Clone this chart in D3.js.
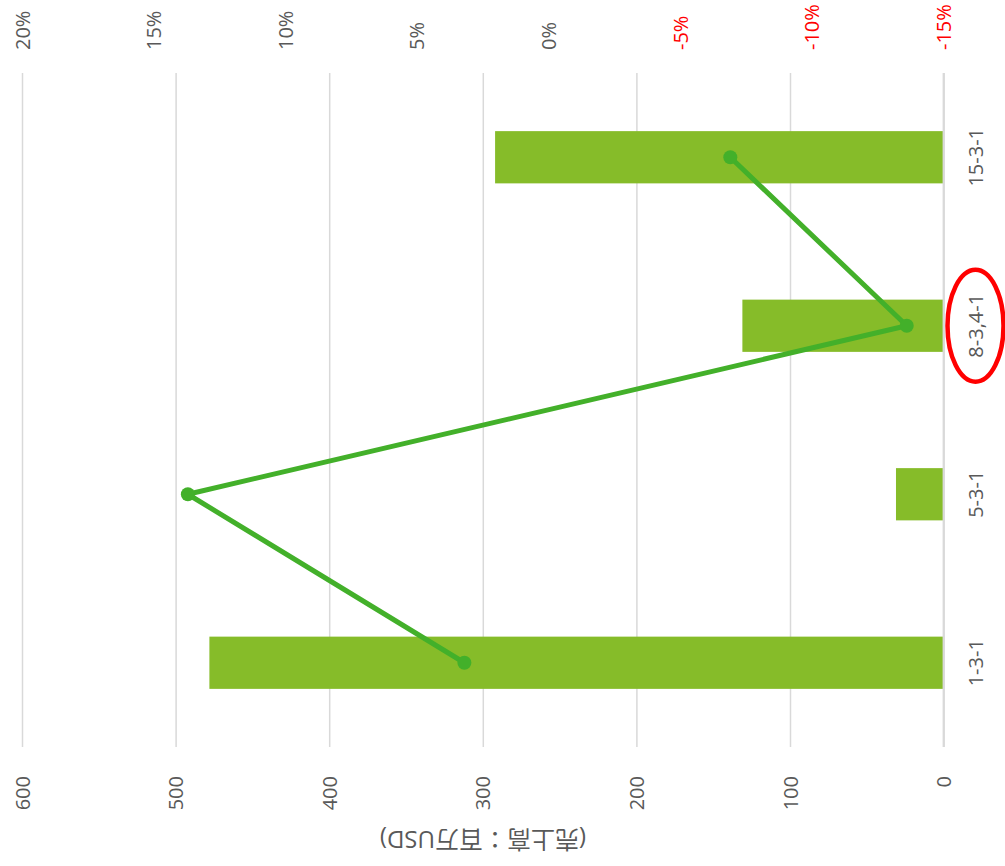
<!DOCTYPE html>
<html>
<head>
<meta charset="utf-8">
<script src="https://cdn.jsdelivr.net/npm/d3@7"></script>
<style>
  html, body { margin: 0; padding: 0; background: #fff; }
  svg { display: block; }
  text { font-family: "Open Sans", "Noto Sans", "Noto Sans CJK JP", sans-serif; }
</style>
</head>
<body>
<svg id="chart" width="1005" height="866"></svg>
<script>
// Categories (top to bottom in the rotated layout)
const categories = ["15-3-1", "8-3,4-1", "5-3-1", "1-3-1"];
// Sales, million USD
const sales = [292, 131, 31, 478];
// Growth rate, %
const growth = [-6.9, -13.6, 13.7, 3.2];
// Axis ticks
const salesTicks = [0, 100, 200, 300, 400, 500, 600];
const growthTicks = [-15, -10, -5, 0, 5, 10, 15, 20];
const axisTitle = "(売上高：百万USD)";
const highlighted = "8-3,4-1";

const svg = d3.select("#chart");

const plot = { left: 22, right: 943.6, top: 73, bottom: 747 };

const y = d3.scaleBand()
  .domain(categories)
  .range([plot.top, plot.bottom])
  .paddingInner(0.69)
  .paddingOuter(0.345);

const x = d3.scaleLinear().domain([0, 600]).range([plot.right, plot.left]);
const x2 = d3.scaleLinear().domain([-15, 20]).range([plot.right, plot.left]);

// Gridlines
svg.append("g")
  .attr("transform", `translate(0,${plot.bottom})`)
  .call(d3.axisBottom(x).tickValues(salesTicks).tickSize(-(plot.bottom - plot.top)).tickFormat(""))
  .call(g => g.select(".domain").remove())
  .call(g => g.selectAll("line").attr("stroke", "#d9d9d9").attr("stroke-width", 1.5));

// Sales axis labels (bottom, rotated)
svg.append("g")
  .attr("transform", `translate(0,${plot.bottom})`)
  .call(d3.axisBottom(x).tickValues(salesTicks).tickSize(0).tickFormat(d3.format("d")))
  .call(g => g.select(".domain").remove())
  .call(g => g.selectAll("text")
    .attr("fill", "#595959")
    .style("font-size", "20px")
    .attr("text-anchor", "end")
    .attr("dy", null)
    .attr("y", 0)
    .attr("transform", "translate(7,29) rotate(-90)"));

// Growth axis labels (top, rotated)
svg.append("g")
  .attr("transform", `translate(0,${plot.top})`)
  .call(d3.axisTop(x2).tickValues(growthTicks).tickSize(0).tickFormat(d => d + "%"))
  .call(g => g.select(".domain").remove())
  .call(g => g.selectAll("text")
    .attr("fill", d => d < 0 ? "#ff0000" : "#595959")
    .style("font-size", "20px")
    .attr("text-anchor", "start")
    .attr("dy", null)
    .attr("y", 0)
    .attr("transform", "translate(7,-23) rotate(-90)"));

// Bars
svg.append("g")
  .selectAll("rect")
  .data(categories)
  .join("rect")
  .attr("x", (d, i) => x(sales[i]))
  .attr("y", d => y(d))
  .attr("width", (d, i) => x(0) - x(sales[i]))
  .attr("height", y.bandwidth())
  .attr("fill", "#86bc29");

// Category axis line
svg.append("line")
  .attr("x1", x(0)).attr("x2", x(0))
  .attr("y1", plot.top).attr("y2", plot.bottom)
  .attr("stroke", "#d9d9d9").attr("stroke-width", 2);

// Category labels
svg.append("g")
  .selectAll("text")
  .data(categories)
  .join("text")
  .attr("transform", d => `translate(983,${y(d) + y.bandwidth() / 2}) rotate(-90)`)
  .attr("text-anchor", "middle")
  .attr("fill", "#595959")
  .style("font-size", "20px")
  .text(d => d);

// Growth line
const line = d3.line()
  .x((d, i) => x2(growth[i]))
  .y(d => y(d) + y.bandwidth() / 2);

svg.append("path")
  .datum(categories)
  .attr("d", line)
  .attr("fill", "none")
  .attr("stroke", "#43b02a")
  .attr("stroke-width", 5)
  .attr("stroke-linejoin", "round");

svg.append("g")
  .selectAll("circle")
  .data(categories)
  .join("circle")
  .attr("cx", (d, i) => x2(growth[i]))
  .attr("cy", d => y(d) + y.bandwidth() / 2)
  .attr("r", 7)
  .attr("fill", "#43b02a");

// Axis title (upside down)
svg.append("text")
  .attr("transform", "translate(483,840) rotate(180)")
  .attr("text-anchor", "middle")
  .attr("dominant-baseline", "central")
  .attr("fill", "#595959")
  .style("font-size", "24px")
  .text(axisTitle);

// Highlight ring around one category label
svg.append("ellipse")
  .attr("cx", 975.5)
  .attr("cy", y(highlighted) + y.bandwidth() / 2)
  .attr("rx", 28)
  .attr("ry", 56)
  .attr("fill", "none")
  .attr("stroke", "#ff0000")
  .attr("stroke-width", 4.5);
</script>
</body>
</html>
